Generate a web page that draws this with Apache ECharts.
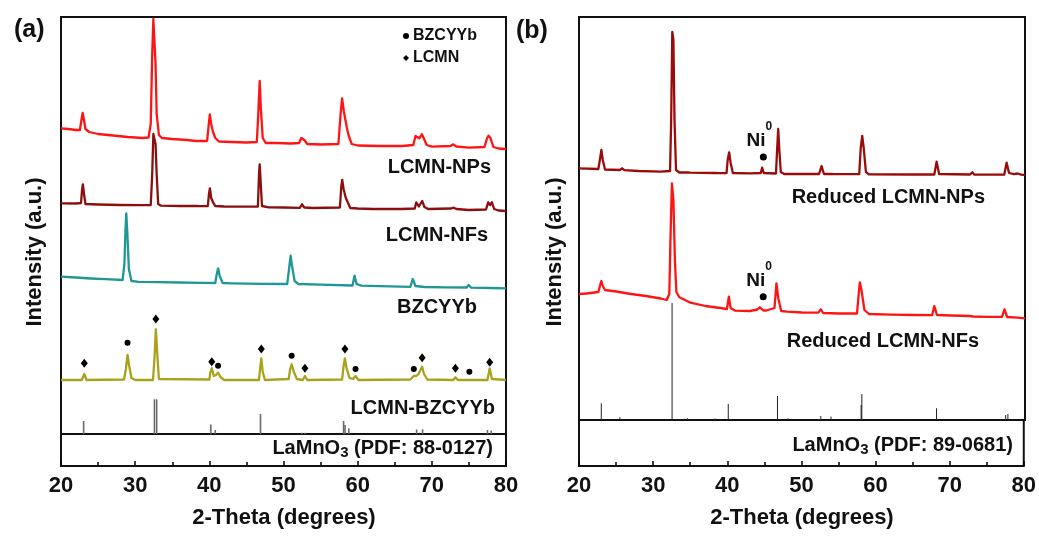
<!DOCTYPE html>
<html><head><meta charset="utf-8">
<script src="https://cdn.jsdelivr.net/npm/echarts@6/dist/echarts.min.js"></script>
<style>html,body{margin:0;padding:0;background:#fff}#c{width:1039px;height:536px}</style>
</head><body><div id="c"></div>
<script>
// ---------- DATA (2-theta in degrees, intensity in arbitrary offset units) ----------
const xTickLabels = [20, 30, 40, 50, 60, 70, 80];

// Panel (a)
const lcmnNPs = [[20,305.7],[21,305],[22,304],[22.55,304],[22.8,316],[22.92,321],[23.05,316],[23.3,305],[23.8,302],[25,300],[27,298.5],[29,297],[31,296],[31.8,296.5],[32.1,310],[32.3,380],[32.45,415],[32.6,415],[32.75,370],[32.9,320],[33.2,299],[33.6,296],[35,295],[37,294],[38.2,293],[38.4,295],[38.6,293],[39.7,293],[39.9,308],[40.06,319.5],[40.25,310],[40.5,302],[40.8,296],[41.3,292.5],[43,292],[45,291.5],[46.4,292],[46.6,320],[46.79,353],[46.95,325],[47.2,296],[47.6,291],[49,291],[51,290.5],[52.1,291],[52.4,296],[52.55,297.3],[52.8,294],[53.2,290],[55,289.5],[57.4,290],[57.7,320],[57.9,335.7],[58.15,322],[58.55,306],[58.8,298],[59.2,290],[60,288.5],[63,288],[66,288],[67.5,289],[67.8,298],[67.95,299],[68.3,295.7],[68.65,299.7],[68.9,296],[69.3,289],[70,287.3],[72.5,288],[72.9,289.7],[73.3,287.5],[75,286.3],[77.1,287],[77.45,296],[77.65,298.3],[77.9,296],[78.3,287],[79,285.5],[80,285]];
const lcmnNFs = [[20,230.7],[22,230.5],[22.7,231],[22.85,245],[22.95,249.7],[23.1,240],[23.3,230],[25,229.5],[28,229],[31,228.8],[32.1,229],[32.3,260],[32.45,300],[32.6,298],[32.75,290],[32.9,260],[33.1,230],[33.5,228.3],[36,228],[38.3,228],[38.45,229.5],[38.6,227.8],[39.8,228],[39.95,240],[40.08,245.7],[40.25,236],[40.5,231.7],[40.8,228],[42,227.5],[44,227.3],[46.55,227.5],[46.7,260],[46.79,269.7],[46.9,255],[47.1,228],[48,226.7],[50,226.5],[52.2,226.2],[52.5,229.7],[52.8,226.5],[54,226],[57.6,226.5],[57.8,248],[57.92,254],[58.1,245],[58.4,236],[58.65,232],[59,226],[60,225.5],[62,225],[66,225],[67.7,225.5],[67.9,231.7],[68.25,227.5],[68.7,233],[69,227],[69.5,225],[72.6,225.5],[72.95,226.3],[73.3,225],[75,224],[77.3,224.5],[77.6,231.7],[77.85,229],[78.1,231.7],[78.4,225],[79,223.5],[80,223]];
const bzcyyb = [[20,157.3],[22,156.5],[24,155.5],[26,154.8],[28.3,154],[28.55,170],[28.7,205],[28.8,220.7],[28.95,200],[29.15,165],[29.5,153],[30.5,152.2],[33,151.8],[36,151.5],[39,151.2],[40.8,151],[41.0,160],[41.18,165.7],[41.4,158],[41.8,151],[43,150.7],[47,150.2],[50.5,150],[50.75,165],[50.96,178.3],[51.15,168],[51.5,153],[52,150],[55,149.3],[59.3,148.5],[59.58,158.3],[59.85,150],[60.5,148.3],[63,147.8],[67.1,147.2],[67.43,155],[67.8,148],[69,147],[72,146.7],[74.7,146.5],[74.97,149],[75.3,146.3],[78,146],[80,145.7]];
const lcmnBzcyyb = [[20,54],[22.8,54],[23.14,60],[23.45,54],[28.5,54.5],[28.75,65],[28.97,79],[29.2,68],[29.5,56],[30,54],[32.4,54],[32.6,75],[32.79,104.7],[32.98,80],[33.2,55],[40,54.5],[40.15,62],[40.33,65.7],[40.6,58],[40.9,59],[41.18,61.3],[41.5,57],[42,54],[46.7,54],[46.85,66],[47.01,75.7],[47.2,62],[47.5,54],[50.7,55],[50.9,65],[51.1,69.7],[51.35,63],[51.8,55],[52.6,54],[52.89,58],[53.2,54],[57.9,54.5],[58.1,68],[58.28,75.7],[58.5,66],[58.9,56],[59.4,55],[59.71,58],[60.1,54],[67.1,54.5],[67.57,58],[67.9,58],[68.2,60],[68.69,67.3],[68.95,60],[69.4,54.5],[72.9,54],[73.18,56.7],[73.5,54],[74.8,54],[75.06,55.3],[75.4,54],[77.5,54],[77.8,65.7],[78.1,55],[80,54]];
const lcmnMarks = [[23.14,70.7],[32.79,115],[40.33,72.3],[47.01,85],[52.89,65.7],[58.28,85],[68.69,76.3],[73.18,65.7],[77.8,71.7]];
const bzcyybMarks = [[28.97,91.3],[41.18,68.3],[51.1,78.3],[59.71,65],[67.57,65],[75.06,62.3]];
const pdf880127 = [[23.05,13],[32.6,34.7],[32.9,34.7],[40.2,9.5],[40.8,4],[46.9,20],[52.5,1.3],[52.9,1.3],[58.1,13],[58.3,9],[58.8,5.7],[67.95,4.5],[68.75,4.7],[77.5,4],[78.0,3.5]];

// Panel (b)
const redNPs = [[20,251.7],[22.6,251],[22.85,262],[23.01,270],[23.2,260],[23.5,250.5],[25.5,250],[25.8,251.7],[26.1,249.8],[28,249],[31,248.3],[32.25,249],[32.4,300],[32.55,388],[32.7,380],[32.85,300],[33.05,250],[33.5,247.5],[34.6,247.5],[34.8,249.3],[35,247.3],[38.3,247],[38.5,248.3],[38.7,246.8],[39.85,247],[40.0,260],[40.2,267.7],[40.4,257],[40.7,247],[43,246.7],[44.45,247],[44.64,252.3],[44.85,247],[46.5,246.5],[46.65,270],[46.8,291],[46.95,270],[47.15,248],[47.6,246],[48.2,246],[48.36,247.7],[48.55,246],[52.3,246],[52.63,254],[52.95,246],[53.9,246],[54.1,247.7],[54.3,245.8],[57.7,246],[57.9,272],[58.1,284],[58.3,272],[58.6,248],[59,245.7],[64.5,245.5],[67.8,245.5],[68.11,258.3],[68.45,246],[72.6,245.5],[72.92,247.7],[73.2,245.3],[77.2,245.3],[77.53,257.3],[77.85,247],[78.5,245.8],[79,246.5],[79.5,245.3],[80,245]];
const redNFs = [[20,126],[21,126.5],[22.6,128],[22.85,135],[23.0,139],[23.2,134],[23.5,130],[25,128.5],[27,126],[29,124],[31,121.5],[31.8,120],[32.15,126],[32.3,180],[32.5,236.7],[32.7,220],[32.9,160],[33.1,128],[33.5,122.7],[35,117.3],[37,114],[39,112],[39.9,111],[40.16,123.3],[40.4,112],[41,109.3],[43,109],[44.0,110.5],[44.33,112.7],[44.8,109.5],[45.2,109.5],[46.3,112],[46.56,136.7],[46.8,122],[47.2,109],[48,108.3],[50,107.5],[52.2,107.3],[52.53,110.7],[52.85,107],[55,106.5],[57.4,106.5],[57.65,128],[57.78,137.7],[58,130],[58.4,110],[59,106],[62,105.3],[65,105],[67.5,104.8],[67.8,114],[68.15,105],[70,104.5],[72.6,104],[73,103.5],[75,103.2],[76.9,103.2],[77.24,110.7],[77.6,103],[79,102.3],[80,101.7]];
const niMarks = [[44.8,263],[44.78,123.3]];
const pdf890681 = [[23.0,16.7],[25.5,2.7],[32.52,117],[34.6,1.7],[38.3,1.5],[40.08,16],[46.7,24],[48.1,1.7],[52.53,4],[53.9,3.3],[57.95,15],[58.05,26],[64.5,1],[68.1,11.7],[72.9,1],[77.4,5],[77.7,6],[78.9,1]];

const curveLabelsA = ['LCMN-NPs', 'LCMN-NFs', 'BZCYYb', 'LCMN-BZCYYb'];
const curveLabelsB = ['Reduced LCMN-NPs', 'Reduced LCMN-NFs'];

// ---------- CHART ----------
const FF = '"Liberation Sans", Arial, sans-serif';
const chart = echarts.init(document.getElementById('c'), null, {renderer: 'canvas'});

function sticks(xAxisIndex, yAxisIndex, data, color, w) {
  return {
    type: 'custom', xAxisIndex, yAxisIndex, data, silent: true,
    renderItem: function (params, api) {
      const p0 = api.coord([api.value(0), 0]);
      const p1 = api.coord([api.value(0), api.value(1)]);
      return {type: 'line', shape: {x1: p0[0], y1: p0[1], x2: p1[0], y2: p1[1]},
        style: {stroke: color, lineWidth: w}};
    }
  };
}
function curve(xAxisIndex, yAxisIndex, data, color, name) {
  return {type: 'line', name, xAxisIndex, yAxisIndex, data, showSymbol: false, symbol: 'none',
    lineStyle: {color, width: 2.3, join: 'round'}, z: 3, silent: true};
}
const hiddenX = (g) => ({type: 'value', gridIndex: g, min: 20, max: 80, show: false});
const hiddenY = (g, max) => ({type: 'value', gridIndex: g, min: 0, max, show: false});
const bottomX = (g) => ({
  type: 'value', gridIndex: g, min: 20, max: 80, interval: 10,
  axisLine: {show: false}, splitLine: {show: false},
  axisTick: {show: true, inside: true, length: 5, lineStyle: {color: '#000', width: 1.5}},
  minorTick: {show: true, splitNumber: 2, length: 4, lineStyle: {color: '#000', width: 1.5}},
  axisLabel: {show: true, margin: 9, color: '#111', fontFamily: FF, fontWeight: 'bold', fontSize: 22,
    formatter: (v) => xTickLabels.includes(v) ? String(v) : ''}
});

function txt(text, x, y, align, size, extra) {
  return Object.assign({type: 'text', x, y, silent: true, z: 10,
    style: Object.assign({text, fill: '#111', font: 'bold ' + size + 'px ' + FF,
      align, textAlign: align, verticalAlign: 'middle', textVerticalAlign: 'middle'}, extra || {})}, {});
}
function pdfLabel(code, x, y) {
  return {type: 'text', x, y, silent: true, z: 10,
    style: {text: '{m|LaMnO}{s|3}{m| (PDF: ' + code + ')}', align: 'right', textAlign: 'right',
      verticalAlign: 'middle', textVerticalAlign: 'middle',
      rich: {
        m: {fill: '#111', font: 'bold 20px ' + FF, fontSize: 20, fontWeight: 'bold', fontFamily: FF, lineHeight: 22, verticalAlign: 'top'},
        s: {fill: '#111', font: 'bold 15px ' + FF, fontSize: 15, fontWeight: 'bold', fontFamily: FF, lineHeight: 15, padding: [12, 0, 0, 0], verticalAlign: 'bottom'}
      }}};
}

const option = {
  animation: false,
  backgroundColor: '#fff',
  grid: [
    {left: 61, top: 17, width: 445, height: 417, show: true, borderColor: '#111', borderWidth: 2, backgroundColor: 'transparent'},
    {left: 61, top: 434, width: 445, height: 32, show: true, borderColor: '#111', borderWidth: 2, backgroundColor: 'transparent'},
    {left: 579, top: 17, width: 446, height: 403, show: true, borderColor: '#111', borderWidth: 2, backgroundColor: 'transparent'},
    {left: 579, top: 420, width: 446, height: 46, show: true, borderColor: '#111', borderWidth: 2, backgroundColor: 'transparent'}
  ],
  xAxis: [hiddenX(0), bottomX(1), hiddenX(2), bottomX(3)],
  yAxis: [hiddenY(0, 417), hiddenY(1, 1), hiddenY(2, 403), hiddenY(3, 1)],
  legend: {
    left: 398, top: 23, orient: 'vertical', itemGap: 6, itemWidth: 6, itemHeight: 6,
    textStyle: {fontFamily: FF, fontWeight: 'bold', fontSize: 16, color: '#111', padding: [0, 0, 0, -1]},
    itemStyle: {opacity: 1},
    data: [{name: 'BZCYYb', icon: 'circle', itemStyle: {color: '#000', opacity: 1}}, {name: 'LCMN', icon: 'diamond', itemStyle: {color: '#000', opacity: 1}}],
    selectedMode: false
  },
  series: [
    sticks(0, 0, pdf880127, '#6a6a6a', 1.6),
    curve(0, 0, lcmnNPs, '#ff1414', 'LCMN-NPs'),
    curve(0, 0, lcmnNFs, '#8c0f0f', 'LCMN-NFs'),
    curve(0, 0, bzcyyb, '#1f9797', 'BZCYYb curve'),
    curve(0, 0, lcmnBzcyyb, '#a8a21c', 'LCMN-BZCYYb'),
    {type: 'scatter', name: 'LCMN', xAxisIndex: 0, yAxisIndex: 0, data: lcmnMarks, symbol: 'diamond', symbolSize: [7, 9], itemStyle: {color: '#000', opacity: 1}, z: 4, silent: true},
    {type: 'scatter', name: 'BZCYYb', xAxisIndex: 0, yAxisIndex: 0, data: bzcyybMarks, symbol: 'circle', symbolSize: 6, itemStyle: {color: '#000', opacity: 1}, z: 4, silent: true},
    sticks(2, 2, pdf890681, '#222', 1),
    curve(2, 2, redNPs, '#9a0c0c', 'Reduced LCMN-NPs'),
    curve(2, 2, redNFs, '#ff1414', 'Reduced LCMN-NFs'),
    {type: 'scatter', name: 'Ni0', xAxisIndex: 2, yAxisIndex: 2, data: niMarks, symbol: 'circle', symbolSize: 7,
      itemStyle: {color: '#000', opacity: 1}, z: 4, silent: true,
      label: {show: true, position: 'top', distance: 3, offset: [-4, 0], formatter: '{n|Ni}{s|0}',
        rich: {
          n: {fontFamily: FF, fontWeight: 'bold', fontSize: 19, color: '#111', lineHeight: 30, verticalAlign: 'bottom'},
          s: {fontFamily: FF, fontWeight: 'bold', fontSize: 12, color: '#111', lineHeight: 12, verticalAlign: 'top'}
        }}}
  ],
  graphic: [
    txt('(a)', 14, 30, 'left', 25),
    txt('(b)', 516, 31, 'left', 25),
    txt(curveLabelsA[0], 491, 167, 'right', 20),
    txt(curveLabelsA[1], 488, 235, 'right', 20),
    txt(curveLabelsA[2], 477, 307, 'right', 20),
    txt(curveLabelsA[3], 495, 408, 'right', 20),
    pdfLabel('88-0127', 493, 449),
    txt(curveLabelsB[0], 985, 197, 'right', 20),
    txt(curveLabelsB[1], 979, 341, 'right', 20),
    pdfLabel('89-0681', 1013, 446),
    Object.assign(txt('Intensity (a.u.)', 35, 252, 'center', 22), {rotation: Math.PI / 2}),
    Object.assign(txt('Intensity (a.u.)', 555, 252, 'center', 22), {rotation: Math.PI / 2}),
    txt('2-Theta (degrees)', 284, 518, 'center', 22),
    txt('2-Theta (degrees)', 802, 518, 'center', 22)
  ]
};
chart.setOption(option);
</script>
</body></html>
